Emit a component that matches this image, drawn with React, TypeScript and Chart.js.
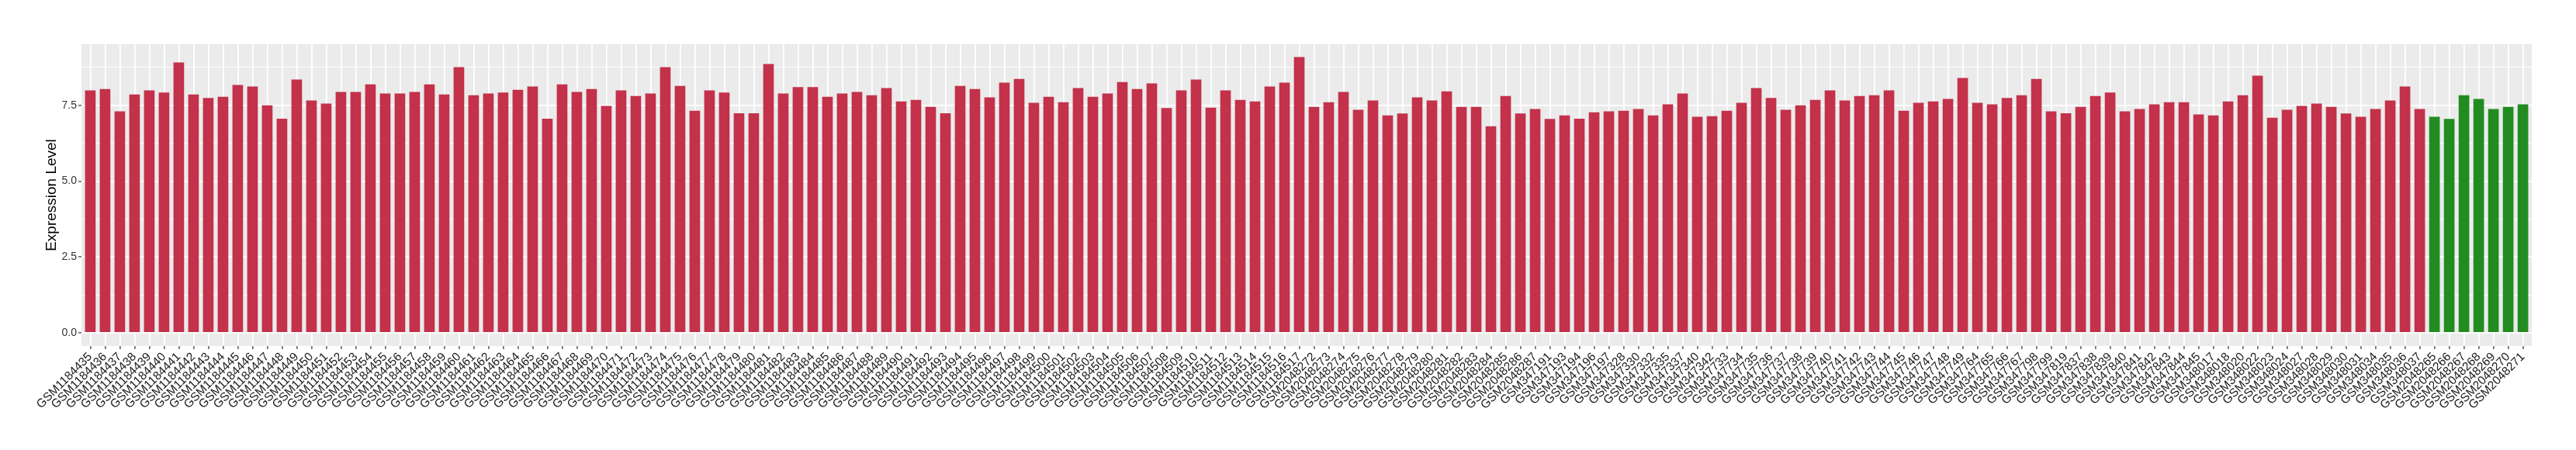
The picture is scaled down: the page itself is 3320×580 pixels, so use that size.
import React, { useEffect, useRef } from "react";
import { Chart, registerables } from "chart.js";

Chart.register(...registerables);

const categories: string[] = [
  "GSM1184435","GSM1184436","GSM1184437","GSM1184438","GSM1184439","GSM1184440","GSM1184441","GSM1184442","GSM1184443","GSM1184444",
  "GSM1184445","GSM1184446","GSM1184447","GSM1184448","GSM1184449","GSM1184450","GSM1184451","GSM1184452","GSM1184453","GSM1184454",
  "GSM1184455","GSM1184456","GSM1184457","GSM1184458","GSM1184459","GSM1184460","GSM1184461","GSM1184462","GSM1184463","GSM1184464",
  "GSM1184465","GSM1184466","GSM1184467","GSM1184468","GSM1184469","GSM1184470","GSM1184471","GSM1184472","GSM1184473","GSM1184474",
  "GSM1184475","GSM1184476","GSM1184477","GSM1184478","GSM1184479","GSM1184480","GSM1184481","GSM1184482","GSM1184483","GSM1184484",
  "GSM1184485","GSM1184486","GSM1184487","GSM1184488","GSM1184489","GSM1184490","GSM1184491","GSM1184492","GSM1184493","GSM1184494",
  "GSM1184495","GSM1184496","GSM1184497","GSM1184498","GSM1184499","GSM1184500","GSM1184501","GSM1184502","GSM1184503","GSM1184504",
  "GSM1184505","GSM1184506","GSM1184507","GSM1184508","GSM1184509","GSM1184510","GSM1184511","GSM1184512","GSM1184513","GSM1184514",
  "GSM1184515","GSM1184516","GSM1184517",
  "GSM2048272","GSM2048273","GSM2048274","GSM2048275","GSM2048276","GSM2048277","GSM2048278","GSM2048279","GSM2048280","GSM2048281",
  "GSM2048282","GSM2048283","GSM2048284","GSM2048285","GSM2048286","GSM2048287",
  "GSM347191","GSM347193","GSM347194","GSM347196","GSM347197","GSM347328","GSM347330","GSM347332","GSM347335","GSM347337",
  "GSM347340","GSM347342",
  "GSM347733","GSM347734","GSM347735","GSM347736","GSM347737","GSM347738","GSM347739","GSM347740","GSM347741","GSM347742",
  "GSM347743","GSM347744","GSM347745","GSM347746","GSM347747","GSM347748","GSM347749",
  "GSM347764","GSM347765","GSM347766","GSM347767","GSM347798","GSM347799","GSM347819","GSM347837","GSM347838","GSM347839",
  "GSM347840","GSM347841","GSM347842","GSM347843","GSM347844","GSM347845",
  "GSM348017","GSM348018","GSM348020","GSM348022","GSM348023","GSM348024","GSM348027","GSM348028","GSM348029","GSM348030",
  "GSM348031","GSM348034","GSM348035","GSM348036","GSM348037",
  "GSM2048265","GSM2048266","GSM2048267","GSM2048268","GSM2048269","GSM2048270","GSM2048271",
];

const expressionValues: number[] = [
  7.99, 8.04, 7.30, 7.86, 7.99, 7.92, 8.91, 7.86, 7.74, 7.78,
  8.17, 8.12, 7.50, 7.06, 8.35, 7.66, 7.56, 7.94, 7.94, 8.19,
  7.89, 7.89, 7.94, 8.19, 7.86, 8.76, 7.83, 7.89, 7.92, 8.01,
  8.12, 7.06, 8.19, 7.94, 8.04, 7.48, 7.99, 7.81, 7.89, 8.76,
  8.14, 7.32, 7.99, 7.92, 7.24, 7.24, 8.86, 7.89, 8.10, 8.10,
  7.78, 7.89, 7.94, 7.83, 8.07, 7.63, 7.68, 7.45, 7.24, 8.14,
  8.04, 7.76, 8.25, 8.37, 7.58, 7.78, 7.60, 8.07, 7.78, 7.89,
  8.27, 8.04, 8.22, 7.41, 7.99, 8.35, 7.42, 7.99, 7.68, 7.63,
  8.12, 8.25, 9.09,
  7.45, 7.60, 7.94, 7.35, 7.66, 7.17, 7.23, 7.76, 7.66, 7.96,
  7.45, 7.45, 6.81, 7.81, 7.23, 7.38,
  7.05, 7.17, 7.06, 7.27, 7.30, 7.32, 7.38, 7.17, 7.53, 7.89,
  7.12, 7.14,
  7.32, 7.58, 8.07, 7.74, 7.35, 7.50, 7.68, 7.99, 7.66, 7.81,
  7.83, 7.99, 7.32, 7.58, 7.63, 7.71, 8.40,
  7.58, 7.53, 7.74, 7.83, 8.37, 7.30, 7.24, 7.45, 7.81, 7.92,
  7.30, 7.38, 7.53, 7.60, 7.60, 7.20,
  7.17, 7.63, 7.83, 8.48, 7.09, 7.35, 7.48, 7.56, 7.45, 7.23,
  7.12, 7.38, 7.66, 8.12, 7.38,
  7.12, 7.05, 7.83, 7.71, 7.38, 7.45, 7.53,
];

// number of leading samples in each group (first group red, second group green)
const groupSizes: number[] = [159, 7];
const groupColors: string[] = ["#C3314A", "#228B22"];

const yTickValues: number[] = [0, 1.25, 2.5, 3.75, 5, 6.25, 7.5, 8.75];

const FONT = "'Liberation Sans', Arial, Helvetica, sans-serif";

export default function App() {
  const canvasRef = useRef<HTMLCanvasElement | null>(null);

  useEffect(() => {
    const canvas = canvasRef.current;
    if (!canvas) return;

    const barColors: string[] = [];
    groupSizes.forEach((n, gi) => {
      for (let k = 0; k < n; k++) barColors.push(groupColors[gi]);
    });

    const panelBg = {
      id: "panelBg",
      beforeDraw(chart: any) {
        const { ctx, chartArea } = chart;
        ctx.save();
        ctx.fillStyle = "#EBEBEB";
        ctx.fillRect(chartArea.left, chartArea.top, chartArea.right - chartArea.left, chartArea.bottom - chartArea.top);
        ctx.restore();
      },
    };

    const isMajor = (v: number) => Math.abs(v / 2.5 - Math.round(v / 2.5)) < 1e-6;

    const chart = new Chart(canvas, {
      type: "bar",
      data: {
        datasets: [
          {
            data: expressionValues.map((v, i) => ({ x: i, y: v })),
            backgroundColor: barColors,
            borderWidth: 0,
            categoryPercentage: 1,
            barPercentage: 0.72,
          },
        ],
      },
      options: {
        animation: false,
        responsive: false,
        devicePixelRatio: 1,
        layout: { padding: { top: 57, right: 57, left: 0, bottom: 0 } },
        plugins: {
          legend: { display: false },
          tooltip: { enabled: false },
        },
        scales: {
          x: {
            type: "linear",
            offset: false,
            min: -0.6,
            max: categories.length - 1 + 0.6,
            afterBuildTicks: (scale: any) => {
              scale.ticks = categories.map((_, i) => ({ value: i }));
            },
            afterFit: (scale: any) => {
              scale.height = 134;
            },
            ticks: {
              autoSkip: false,
              minRotation: 45,
              maxRotation: 45,
              padding: 1,
              color: "#1A1A1A",
              font: { family: FONT, size: 15.4 },
              callback: (value: any) => categories[value as number] ?? "",
            },
            grid: {
              offset: false,
              color: "#FFFFFF",
              lineWidth: 1.8,
              drawTicks: true,
              tickLength: 4,
              tickColor: "#333333",
              tickWidth: 1.2,
            },
            border: { display: false },
          },
          y: {
            type: "linear",
            min: -0.435,
            max: 9.514,
            afterBuildTicks: (scale: any) => {
              scale.ticks = yTickValues.map((v) => ({ value: v }));
            },
            afterFit: (scale: any) => {
              scale.width = 105;
            },
            ticks: {
              padding: 2,
              color: "#333333",
              font: { family: FONT, size: 14 },
              callback: (value: any) => (isMajor(value as number) ? (value as number).toFixed(1) : ""),
            },
            grid: {
              color: "#FFFFFF",
              lineWidth: (ctx: any) => (ctx.tick && isMajor(ctx.tick.value) ? 1.8 : 0.9),
              drawTicks: true,
              tickLength: 4,
              tickColor: (ctx: any) => (ctx.tick && isMajor(ctx.tick.value) ? "#333333" : "rgba(0,0,0,0)"),
              tickWidth: 1.2,
            },
            border: { display: false },
            title: {
              display: true,
              text: "Expression Level",
              color: "#000000",
              font: { family: FONT, size: 19 },
              padding: { top: 55, bottom: 0 },
            },
          },
        },
      },
      plugins: [panelBg],
    } as any);

    return () => {
      chart.destroy();
    };
  }, []);

  return (
    <div style={{ position: "absolute", left: 0, top: 0, width: 3320, height: 580, background: "#FFFFFF" }}>
      <canvas ref={canvasRef} width={3320} height={580} style={{ display: "block", width: 3320, height: 580 }} />
    </div>
  );
}
